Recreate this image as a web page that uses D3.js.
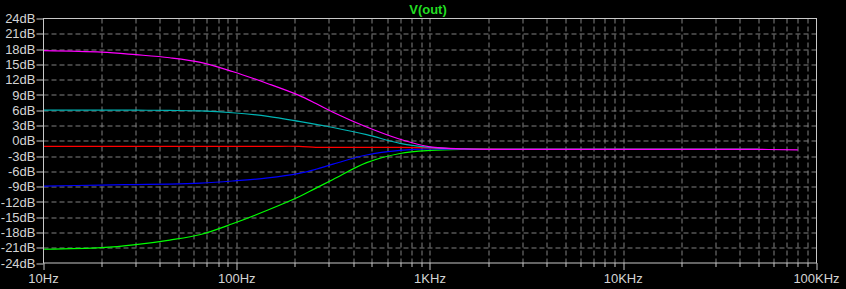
<!DOCTYPE html>
<html>
<head>
<meta charset="utf-8">
<script src="https://cdn.jsdelivr.net/npm/d3@7"></script>
<style>
  body { margin: 0; background: #000; }
  svg { display: block; font-family: Arial, "Liberation Sans", sans-serif; }
</style>
</head>
<body>
<div id="plot-area"></div>
<script>
// Frequencies (Hz) shared by all traces
var freqs = [10, 20, 30, 45, 65, 95, 145, 210, 257, 315, 470, 700, 1000, 1500, 3000, 10000, 50000, 80000];

// dB values per trace (null = no sample)
var magentaDb = [17.7, 17.4, 16.9, 16.3, 15.4, 13.6, 11.2, 8.9, 7.3, 5.6, 2.7, 0.3, -1.2, -1.6, -1.7, -1.7, -1.7, -1.8];
var cyanDb    = [6.0, 6.0, 6.0, 5.95, 5.85, 5.5, 4.8, 3.8, 3.2, 2.6, 1.2, -0.5, -1.3, -1.6, -1.7, -1.7, -1.7, null];
var redDb     = [-1.1, -1.1, -1.1, -1.1, -1.1, -1.1, -1.1, -1.1, -1.3, -1.3, -1.3, -1.3, -1.4, -1.6, -1.7, -1.7, -1.7, null];
var blueDb    = [-8.9, -8.7, -8.6, -8.5, -8.3, -7.9, -7.3, -6.4, -5.6, -4.6, -2.8, -1.9, -1.6, -1.7, -1.7, -1.7, -1.7, null];
var greenDb   = [-21.3, -21.0, -20.4, -19.5, -18.4, -16.3, -13.6, -11.0, -9.3, -7.6, -4.3, -2.5, -1.9, -1.7, -1.7, -1.7, -1.7, null];

var traces = [
    { name: "green",   color: "#00ff00", values: greenDb },
    { name: "blue",    color: "#0000ff", values: blueDb },
    { name: "red",     color: "#ff0000", values: redDb },
    { name: "cyan",    color: "#00b4b4", values: cyanDb },
    { name: "magenta", color: "#ff00ff", values: magentaDb }
];

var yTicks = d3.range(-24, 25, 3);
var xMajor = [10, 100, 1000, 10000, 100000];
var xLabels = ["10Hz", "100Hz", "1KHz", "10KHz", "100KHz"];
var title = "V(out)";

var margin = { left: 43.5, right: 29.5, top: 18.5, bottom: 26 };
var W = 846, H = 289;
var width = W - margin.left - margin.right,
    height = H - margin.top - margin.bottom;

var svg = d3.select("#plot-area")
    .append("svg")
        .attr("width", W)
        .attr("height", H)
    .append("g")
        .attr("transform", "translate(" + margin.left + "," + margin.top + ")");

var x = d3.scaleLog().domain([10, 100000]).range([0, width]);
var y = d3.scaleLinear().domain([-24, 24]).range([height, 0]);

// minor log ticks for vertical grid
var xMinor = [];
for (var dec = 10; dec < 100000; dec *= 10) {
    for (var k = 2; k <= 9; k++) xMinor.push(dec * k);
}

var gridColor = "#808080";

// vertical grid
svg.selectAll(".vgrid")
    .data(xMinor.concat(xMajor.slice(1, -1)))
    .enter().append("line")
        .attr("x1", function(d){ return Math.round(x(d)) + 0.5; })
        .attr("x2", function(d){ return Math.round(x(d)) + 0.5; })
        .attr("y1", 0)
        .attr("y2", height)
        .attr("stroke", gridColor)
        .attr("stroke-dasharray", "5,3");

// horizontal grid
svg.selectAll(".hgrid")
    .data(yTicks.slice(1, -1))
    .enter().append("line")
        .attr("x1", 0)
        .attr("x2", width)
        .attr("y1", function(d){ return Math.round(y(d)) + 0.5; })
        .attr("y2", function(d){ return Math.round(y(d)) + 0.5; })
        .attr("stroke", gridColor)
        .attr("stroke-dasharray", "5,3");

// traces
var line = d3.line()
    .defined(function(d){ return d[1] != null; })
    .x(function(d){ return x(d[0]); })
    .y(function(d){ return y(d[1]); })
    .curve(d3.curveCatmullRom.alpha(0.5));

traces.forEach(function(t){
    var pts = freqs.map(function(f, i){ return [f, t.values[i]]; });
    svg.append("path")
        .datum(pts)
        .attr("fill", "none")
        .attr("stroke", t.color)
        .attr("stroke-width", 1.2)
        .attr("d", line);
});

// frame
var axisColor = "#c8c8c8";
svg.append("rect")
    .attr("x", 0).attr("y", 0)
    .attr("width", width).attr("height", height)
    .attr("fill", "none")
    .attr("stroke", axisColor);

// y ticks and labels
svg.selectAll(".ytick")
    .data(yTicks)
    .enter().append("line")
        .attr("x1", -7).attr("x2", 0)
        .attr("y1", function(d){ return Math.round(y(d)) + 0.5; })
        .attr("y2", function(d){ return Math.round(y(d)) + 0.5; })
        .attr("stroke", axisColor);

svg.selectAll(".ylabel")
    .data(yTicks)
    .enter().append("text")
        .attr("x", -8)
        .attr("y", function(d){ return y(d); })
        .attr("dy", "0.36em")
        .attr("text-anchor", "end")
        .attr("font-size", "13px")
        .attr("fill", "#d4d4d4")
        .text(function(d){ return d + "dB"; });

// x ticks and labels
svg.selectAll(".xtick")
    .data(xMinor.concat(xMajor))
    .enter().append("line")
        .attr("x1", function(d){ return Math.round(x(d)) + 0.5; })
        .attr("x2", function(d){ return Math.round(x(d)) + 0.5; })
        .attr("y1", height)
        .attr("y2", function(d){ return xMajor.indexOf(d) >= 0 ? height + 7 : height + 4; })
        .attr("stroke", axisColor);

svg.selectAll(".xlabel")
    .data(xMajor)
    .enter().append("text")
        .attr("x", function(d){ return x(d); })
        .attr("y", height + 20)
        .attr("text-anchor", "middle")
        .attr("font-size", "13px")
        .attr("fill", "#d4d4d4")
        .text(function(d, i){ return xLabels[i]; });

// title
svg.append("text")
    .attr("x", x(1000) - 2)
    .attr("y", -5)
    .attr("text-anchor", "middle")
    .attr("font-size", "13px")
    .attr("font-weight", "bold")
    .attr("fill", "#22dd22")
    .text(title);
</script>
</body>
</html>
